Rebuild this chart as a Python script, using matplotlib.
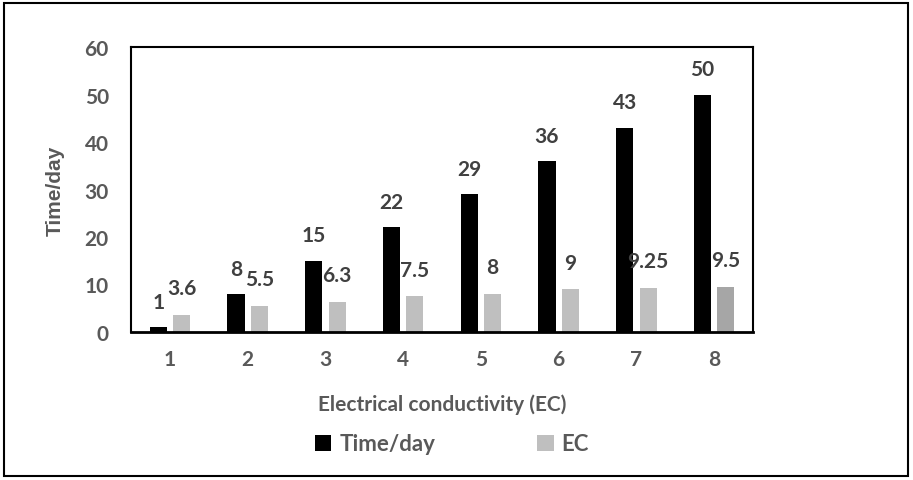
import matplotlib.pyplot as plt
import numpy as np
from matplotlib.patches import Rectangle

# Datos del grafico
categorias = ['1', '2', '3', '4', '5', '6', '7', '8']
tiempo = [1, 8, 15, 22, 29, 36, 43, 50]
ec = [3.6, 5.5, 6.3, 7.5, 8, 9, 9.25, 9.5]
ec_etiquetas = ['3.6', '5.5', '6.3', '7.5', '8', '9', '9.25', '9.5']

gris_texto = '#595959'
fuente = 'Lato'

fig = plt.figure(figsize=(9.13, 4.81), dpi=100)
ax = fig.add_axes([0.1435, 0.3077, 0.6813, 0.5925])

x = np.arange(len(categorias))
ancho = 0.22
colores_ec = ['#BFBFBF'] * 7 + ['#A6A6A6']

b1 = ax.bar(x - 0.15, tiempo, ancho, color='black', label='Time/day')
b2 = ax.bar(x + 0.15, ec, ancho, color=colores_ec, label='EC')

# Etiquetas de datos
for xi, v in zip(x, tiempo):
    ax.annotate(str(v), (xi - 0.15, v), xytext=(0, 11), textcoords='offset points',
                ha='center', va='bottom', fontsize=15, fontweight='bold',
                color='#404040', family=fuente)
for xi, v, t in zip(x, ec, ec_etiquetas):
    ax.annotate(t, (xi + 0.15, v), xytext=(0, 12), textcoords='offset points',
                ha='center', va='bottom', fontsize=15, fontweight='bold',
                color='#404040', family=fuente)

ax.set_xlim(-0.5, len(categorias) - 0.5)
ax.set_ylim(0, 60)
ax.set_yticks(range(0, 61, 10))
ax.set_xticks(x)
ax.set_xticklabels(categorias)
ax.tick_params(length=0, pad=12, labelsize=15, labelcolor=gris_texto)
ax.tick_params(axis='y', pad=16)
for lbl in ax.get_xticklabels() + ax.get_yticklabels():
    lbl.set_fontweight('bold')
    lbl.set_family(fuente)

for s in ax.spines.values():
    s.set_linewidth(1.5)
    s.set_color('black')
ax.spines['bottom'].set_linewidth(2)

ax.set_xlabel('Electrical conductivity (EC)', fontsize=15, fontweight='bold',
              color=gris_texto, family=fuente, labelpad=18)
ax.set_ylabel('Time/day', fontsize=15, fontweight='bold', color=gris_texto,
              family='Liberation Sans', labelpad=14)

leg = fig.legend(handles=[b1, b2], loc='center', bbox_to_anchor=(0.495, 0.075),
                 ncol=2, frameon=False, columnspacing=4.6, handlelength=0.75,
                 handleheight=0.75, handletextpad=0.35,
                 prop={'family': fuente, 'weight': 'bold', 'size': 16})
for t in leg.get_texts():
    t.set_color(gris_texto)

# Borde exterior
fig.patches.append(Rectangle((0.004, 0.008), 0.991, 0.984, transform=fig.transFigure,
                             fill=False, edgecolor='black', linewidth=1.5))

fig.savefig('out.png', dpi=100)
